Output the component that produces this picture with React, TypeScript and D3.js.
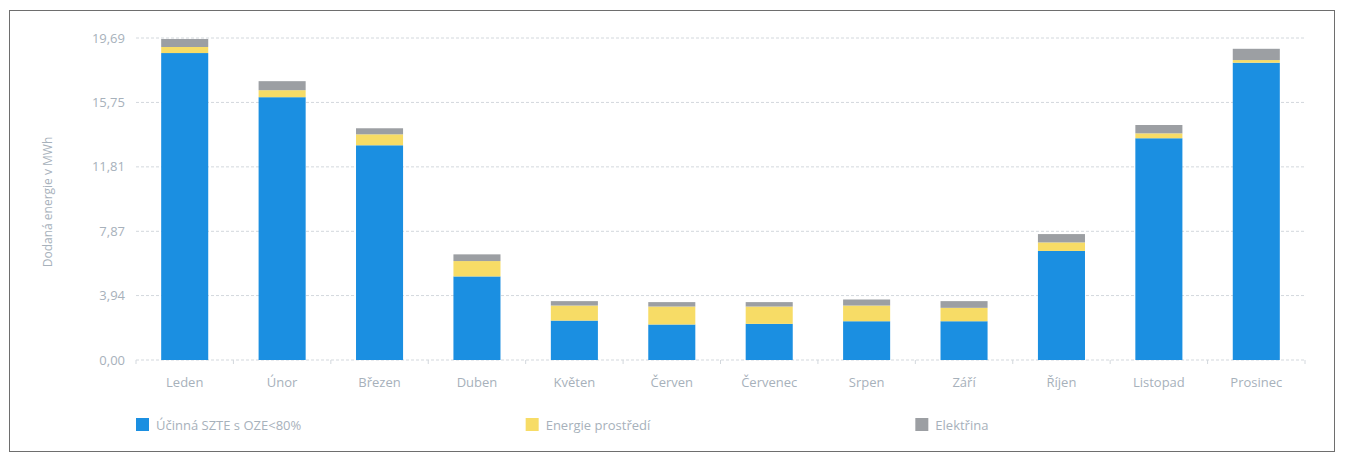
import React, { FC } from 'react';
import * as d3 from 'd3';

// Months (Czech) and stacked series values in MWh
const months: string[] = [
  'Leden', 'Únor', 'Březen', 'Duben', 'Květen', 'Červen',
  'Červenec', 'Srpen', 'Září', 'Říjen', 'Listopad', 'Prosinec',
];
const szte: number[] = [18.77, 16.07, 13.13, 5.11, 2.41, 2.17, 2.21, 2.37, 2.37, 6.67, 13.56, 18.18];
const prostredi: number[] = [0.37, 0.43, 0.67, 0.94, 0.92, 1.1, 1.06, 0.96, 0.82, 0.52, 0.3, 0.16];
const elektrina: number[] = [0.49, 0.55, 0.37, 0.41, 0.27, 0.27, 0.27, 0.37, 0.41, 0.51, 0.51, 0.69];
const yTicks: number[] = [0, 3.94, 7.87, 11.81, 15.75, 19.69];

const seriesKeys: string[] = ['szte', 'prostredi', 'elektrina'];
const seriesNames: string[] = ['Účinná SZTE s OZE<80%', 'Energie prostředí', 'Elektřina'];
const seriesColors: string[] = ['#1b8fe1', '#f7dc66', '#9c9fa3'];

type Row = { month: string; szte: number; prostredi: number; elektrina: number };

const rows: Row[] = months.map((m, i) => ({
  month: m,
  szte: szte[i],
  prostredi: prostredi[i],
  elektrina: elektrina[i],
}));

const W = 1345;
const H = 455;
const plot = { left: 136, right: 1305, top: 38, bottom: 360 };
const textColor = '#a7b1bb';
const font = '"Open Sans", sans-serif';

const fmt = (v: number): string => v.toFixed(2).replace('.', ',');

const App: FC = () => {
  const x = d3
    .scaleBand<string>()
    .domain(months)
    .range([plot.left, plot.right])
    .paddingInner(0.517)
    .paddingOuter(0.2585);
  const y = d3.scaleLinear().domain([0, 19.69]).range([plot.bottom, plot.top]);

  const stacked = d3.stack<Row>().keys(seriesKeys)(rows);
  const step = x.step();
  const legendStep = (plot.right - plot.left) / 3;

  return (
    <svg
      width={W}
      height={H}
      style={{ position: 'absolute', left: 0, top: 0, background: '#fff' }}
      fontFamily={font}
    >
      <rect x={9.5} y={10.5} width={1325} height={441} fill="#fff" stroke="#6e6e6e" strokeWidth={1} />

      {/* grid + y tick labels */}
      <g id="y-axis">
        {yTicks.map((t) => (
          <g key={t}>
            <line
              x1={plot.left}
              x2={plot.right}
              y1={y(t)}
              y2={y(t)}
              stroke="#d3d8dd"
              strokeWidth={1}
              strokeDasharray="3,2"
            />
            <text x={125} y={y(t)} dy="0.35em" textAnchor="end" fontSize={13} fill={textColor}>
              {fmt(t)}
            </text>
          </g>
        ))}
        <text
          transform={`translate(52, ${(plot.top + plot.bottom) / 2 + 3}) rotate(-90)`}
          textAnchor="middle"
          fontSize={12}
          fill={textColor}
        >
          Dodaná energie v MWh
        </text>
      </g>

      {/* x ticks and labels */}
      <g id="x-axis">
        {d3.range(months.length + 1).map((i) => (
          <line
            key={i}
            x1={plot.left + i * step}
            x2={plot.left + i * step}
            y1={plot.bottom}
            y2={plot.bottom + 4}
            stroke="#d3d8dd"
          />
        ))}
        {months.map((m) => (
          <text
            key={m}
            x={(x(m) ?? 0) + x.bandwidth() / 2}
            y={plot.bottom + 27}
            textAnchor="middle"
            fontSize={13}
            fill={textColor}
          >
            {m}
          </text>
        ))}
      </g>

      {/* stacked bars */}
      <g id="bars">
        {stacked.map((s, si) => (
          <g key={s.key} fill={seriesColors[si]}>
            {s.map((d, i) => (
              <rect
                key={i}
                x={x(d.data.month)}
                y={y(d[1])}
                width={x.bandwidth()}
                height={y(d[0]) - y(d[1])}
              />
            ))}
          </g>
        ))}
      </g>

      {/* legend */}
      <g id="legend">
        {seriesNames.map((n, i) => (
          <g key={n} transform={`translate(${plot.left + i * legendStep}, 418)`}>
            <rect x={0} y={0} width={13} height={13} fill={seriesColors[i]} />
            <text x={20} y={7} dy="0.35em" fontSize={13} fill={textColor}>
              {n}
            </text>
          </g>
        ))}
      </g>
    </svg>
  );
};

export default App;
